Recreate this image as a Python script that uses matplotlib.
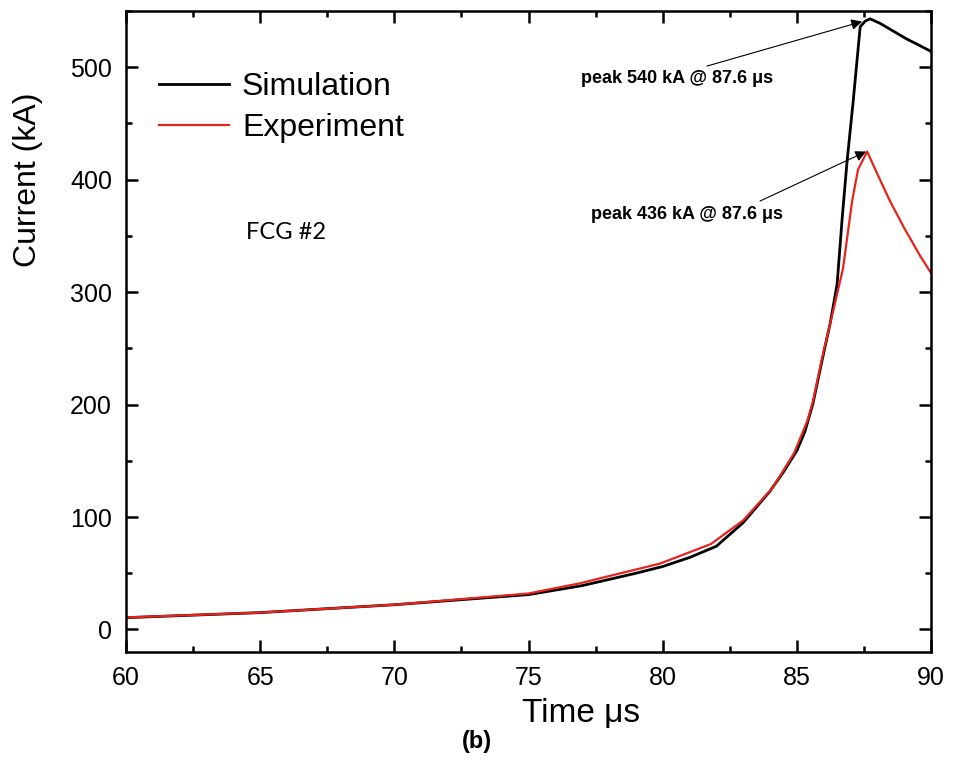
import matplotlib
matplotlib.use("Agg")
import matplotlib.pyplot as plt
from matplotlib.ticker import MultipleLocator

# ---- data ----
sim_t = [60, 65, 70, 75, 77, 79, 80, 81, 82, 83, 84, 84.5, 85, 85.3, 85.6,
         86.0, 86.24, 86.5, 86.69, 86.87, 87.1, 87.36, 87.55, 87.73, 88.1,
         88.6, 89.1, 89.6, 90]
sim_i = [10.5, 15, 22, 31, 39, 50, 56, 64, 74, 95, 123, 140, 159, 176, 201,
         246, 272, 307, 366, 416, 470, 536, 541, 543, 539,
         532, 525, 519, 514]

exp_t = [60, 65, 70, 75, 76.9, 79.9, 81.8, 83, 84.1, 84.9, 85.4, 85.6, 86,
         86.35, 86.72, 87.06, 87.28, 87.62, 88.0, 88.47, 89.0, 89.6, 90]
exp_i = [10.7, 15, 22, 32, 41, 58.6, 76, 97, 126, 157, 186, 203, 248,
         283, 321, 381, 409, 425, 405, 381, 357, 332, 317]

ann_text = ["peak 540 kA @ 87.6 \u03bcs", "peak 436 kA @ 87.6 \u03bcs"]
ann_tip = [(87.43, 540.6), (87.58, 425)]
ann_xy_text = [(80.54, 490), (80.91, 369)]
ann_tail = [(81.65, 501), (83.63, 381)]

plt.rcParams['font.family'] = ['Liberation Sans', 'DejaVu Sans']

fig = plt.figure(figsize=(9.64, 7.62), dpi=100)
ax = fig.add_axes([0.1307, 0.1444, 0.8351, 0.8412])

ax.plot(sim_t, sim_i, color='black', lw=2.0, label='Simulation')
ax.plot(exp_t, exp_i, color='#e8231b', lw=1.6, label='Experiment')

ax.set_xlim(60, 90)
ax.set_ylim(-20, 550)
ax.xaxis.set_major_locator(MultipleLocator(5))
ax.xaxis.set_minor_locator(MultipleLocator(2.5))
ax.yaxis.set_major_locator(MultipleLocator(100))
ax.yaxis.set_minor_locator(MultipleLocator(50))
ax.tick_params(which='both', direction='in', top=True, right=True, width=1.8)
ax.tick_params(which='major', length=8.5, labelsize=18, pad=10)
ax.tick_params(which='minor', length=4.5)
for s in ax.spines.values():
    s.set_linewidth(1.8)

ax.set_xlabel('Time \u03bcs', fontsize=24)
ax.set_ylabel('Current (kA)', fontsize=23)
ax.xaxis.set_label_coords(0.565, -0.072)
ax.yaxis.set_label_coords(-0.103, 0.736)

# peak annotations
for txt, tip, pos, tail in zip(ann_text, ann_tip, ann_xy_text, ann_tail):
    ax.text(pos[0], pos[1], txt, fontsize=13, fontweight='bold',
            ha='center', va='center')
    ax.annotate('', xy=tip, xytext=tail,
                arrowprops=dict(arrowstyle='-|>', color='black', lw=0.8,
                                mutation_scale=16, shrinkA=0, shrinkB=0))

ax.text(0.149, 0.655, 'FCG #2', transform=ax.transAxes, fontsize=17,
        family='Lato', ha='left', va='center')

ax.legend(loc='upper left', bbox_to_anchor=(0.025, 0.925), frameon=False,
          fontsize=23, handlelength=2.2, handletextpad=0.4,
          labelspacing=0.35, borderaxespad=0)

fig.text(0.495, 0.027, '(b)', fontsize=17, fontweight='bold',
         ha='center', va='center')

fig.savefig('out.png', dpi=100)
